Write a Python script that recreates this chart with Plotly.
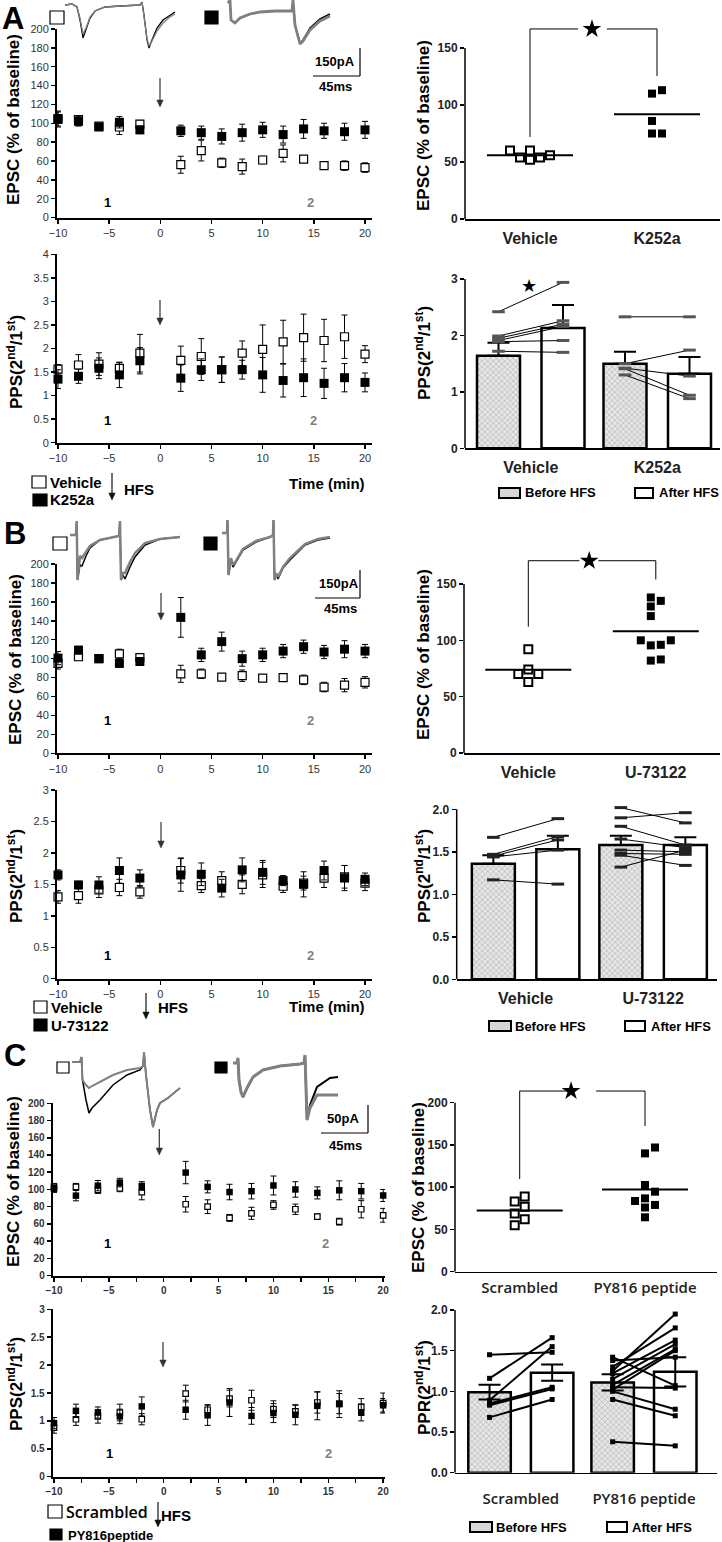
import plotly.graph_objects as go
import numpy as np

# ======================= DATA =======================
t_min = [-10, -8, -6, -4, -2, 2, 4, 6, 8, 10, 12, 14, 16, 18, 20]

# ---- Panel A (Vehicle vs K252a) ----
A_epsc_vehicle = [105, 104, 97, 96, 99, 56, 71, 58, 54, 61, 68, 62, 55, 55, 53]
A_epsc_vehicle_sem = [8, 4, 3, 8, 4, 9, 11, 5, 8, 4, 9, 3, 4, 5, 5]
A_epsc_k252a = [104, 102, 96, 101, 93, 92, 90, 86, 90, 93, 88, 94, 92, 91, 93]
A_epsc_k252a_sem = [8, 5, 3, 6, 4, 6, 7, 8, 9, 8, 9, 10, 8, 9, 9]

A_pps_vehicle = [1.56, 1.65, 1.67, 1.58, 1.90, 1.75, 1.83, 1.55, 1.90, 1.98, 2.14, 2.23, 2.17, 2.25, 1.88]
A_pps_vehicle_sem = [0.10, 0.22, 0.24, 0.12, 0.40, 0.30, 0.38, 0.27, 0.26, 0.52, 0.46, 0.50, 0.45, 0.46, 0.18]
A_pps_k252a = [1.35, 1.41, 1.58, 1.44, 1.74, 1.37, 1.55, 1.55, 1.55, 1.44, 1.32, 1.38, 1.26, 1.38, 1.28]
A_pps_k252a_sem = [0.20, 0.15, 0.22, 0.27, 0.28, 0.28, 0.23, 0.27, 0.20, 0.37, 0.35, 0.40, 0.32, 0.30, 0.20]

A_groups = ["Vehicle", "K252a"]
A_scatter_vehicle = [60, 54, 52, 54, 56, 60]
A_scatter_k252a = [110, 113, 86, 75, 75]

A_bar_before = [1.64, 1.50]
A_bar_before_sem = [0.23, 0.21]
A_bar_after = [2.13, 1.32]
A_bar_after_sem = [0.41, 0.30]
A_pair_vehicle_before = [2.42, 1.99, 1.95, 1.91, 1.89, 1.72]
A_pair_vehicle_after = [2.94, 2.26, 2.20, 2.16, 1.91, 1.70]
A_pair_k252a_before = [2.33, 1.50, 1.42, 1.41, 1.30]
A_pair_k252a_after = [2.33, 1.74, 1.28, 0.94, 0.88]

# ---- Panel B (Vehicle vs U-73122) ----
B_epsc_vehicle = [95, 102, 100, 105, 101, 84, 84, 80.5, 82, 79.4, 80, 77.6, 70, 72, 75]
B_epsc_vehicle_sem = [6, 4, 3, 5, 3, 9, 5, 3, 6, 3, 3, 5, 5, 7, 6]
B_epsc_u73122 = [100.6, 109, 100, 95, 97, 143.6, 104, 118, 100, 104, 108, 112.6, 107, 110, 108]
B_epsc_u73122_sem = [7, 4, 3, 4, 4, 21, 7, 10, 8, 7, 7, 7, 7, 9, 7]

B_pps_vehicle = [1.30, 1.32, 1.41, 1.45, 1.38, 1.72, 1.48, 1.56, 1.50, 1.65, 1.47, 1.52, 1.60, 1.62, 1.52]
B_pps_vehicle_sem = [0.10, 0.12, 0.12, 0.13, 0.10, 0.20, 0.11, 0.14, 0.15, 0.20, 0.10, 0.11, 0.15, 0.18, 0.12]
B_pps_u73122 = [1.65, 1.49, 1.49, 1.72, 1.60, 1.65, 1.66, 1.44, 1.73, 1.69, 1.56, 1.50, 1.72, 1.60, 1.58]
B_pps_u73122_sem = [0.08, 0.06, 0.13, 0.20, 0.13, 0.26, 0.18, 0.14, 0.19, 0.19, 0.08, 0.20, 0.15, 0.20, 0.10]

B_groups = ["Vehicle", "U-73122"]
B_scatter_vehicle = [92, 74, 70, 70, 63]
B_scatter_u73122 = [138, 135, 130, 121.5, 100, 96, 95.5, 100, 82, 83]

B_bar_before = [1.36, 1.58]
B_bar_before_sem = [0.10, 0.11]
B_bar_after = [1.53, 1.58]
B_bar_after_sem = [0.16, 0.09]
B_pair_vehicle_before = [1.67, 1.47, 1.45, 1.44, 1.17]
B_pair_vehicle_after = [1.89, 1.68, 1.64, 1.52, 1.12]
B_pair_u73122_before = [2.02, 1.90, 1.80, 1.65, 1.52, 1.48, 1.46, 1.32]
B_pair_u73122_after = [1.84, 1.96, 1.58, 1.55, 1.50, 1.47, 1.34, 1.52]

# ---- Panel C (Scrambled vs PY816 peptide) ----
C_epsc_scrambled = [103, 103, 99.4, 101.4, 97, 82.8, 80, 67, 72.3, 82, 77, 68.4, 62.6, 77, 70]
C_epsc_scrambled_sem = [4, 4, 4, 4, 9, 9, 8, 4, 7, 5, 6, 3, 4, 10, 8]
C_epsc_py816 = [100.6, 92.8, 104.4, 108, 104, 119.6, 103, 97, 98, 104.6, 100, 96, 99, 98, 93]
C_epsc_py816_sem = [4, 6, 6, 5, 5, 13, 7, 9, 9, 11, 9, 7, 11, 9, 7]

C_pps_scrambled = [0.88, 1.03, 1.08, 1.15, 1.03, 1.49, 1.20, 1.40, 1.37, 1.21, 1.17, 1.33, 1.31, 1.25, 1.32]
C_pps_scrambled_sem = [0.10, 0.11, 0.12, 0.15, 0.10, 0.15, 0.09, 0.15, 0.18, 0.15, 0.11, 0.19, 0.18, 0.15, 0.18]
C_pps_py816 = [0.96, 1.18, 1.15, 1.08, 1.26, 1.20, 1.10, 1.33, 1.09, 1.14, 1.11, 1.27, 1.30, 1.15, 1.28]
C_pps_py816_sem = [0.10, 0.12, 0.10, 0.13, 0.17, 0.17, 0.18, 0.25, 0.15, 0.17, 0.18, 0.25, 0.24, 0.15, 0.12]

C_groups = ["Scrambled", "PY816 peptide"]
C_scatter_scrambled = [83, 77, 89, 69, 62, 55]
C_scatter_py816 = [147, 140, 102.6, 94.7, 86.8, 79, 76, 83.7, 64.4]

C_bar_before = [0.99, 1.11]
C_bar_before_sem = [0.09, 0.10]
C_bar_after = [1.23, 1.24]
C_bar_after_sem = [0.10, 0.18]
C_pair_scrambled_before = [1.45, 1.16, 0.89, 0.85, 0.83, 0.68]
C_pair_scrambled_after = [1.48, 1.66, 1.55, 1.05, 1.03, 0.90]
C_pair_py816_before = [1.25, 1.30, 1.22, 1.15, 1.08, 1.42, 1.38, 1.02, 1.00, 0.90, 0.38, 1.05]
C_pair_py816_after = [1.95, 1.78, 1.63, 1.58, 1.52, 1.07, 1.42, 1.50, 0.78, 0.70, 0.33, 1.04]

# ---- Example EPSC traces (ms, pA) ----
trA_veh_t = [0, 7, 12, 15, 18, 21, 25, 30, 40, 55, 75, 77, 79, 82, 84, 87, 92, 98, 105, 110]
trA_veh_black = [0, 6, -12, -90, -198, -150, -78, -36, -12, -6, 0, 18, -60, -210, -258, -210, -138, -90, -60, -42]
trA_veh_gray = [0, 6, -12, -80, -174, -138, -72, -36, -12, -6, 0, 18, -60, -200, -246, -216, -156, -108, -72, -54]
trA_k_t = [0, 2, 3, 7, 12, 22, 32, 47, 64, 65, 67, 72, 75, 82, 92, 102]
trA_k_black = [0, 18, -102, -120, -90, -66, -54, -48, -48, 18, -132, -240, -222, -150, -96, -66]
trA_k_gray = [0, 18, -102, -120, -90, -66, -54, -48, -48, 18, -132, -246, -228, -162, -108, -78]

trB_veh_t = [0, 6, 6.7, 7.5, 10, 12, 16, 20, 30, 45, 49, 50, 51, 53, 55, 60, 65, 75, 90, 110]
trB_veh_black = [0, 0, 84, -270, -180, -186, -126, -78, -30, -12, -6, 84, -270, -240, -264, -192, -132, -60, -24, -12]
trB_veh_gray = [0, 0, 84, -270, -126, -138, -102, -66, -30, -12, -6, 84, -270, -228, -228, -162, -108, -48, -24, -12]
trB_u_t = [0, 5, 5.5, 6.5, 9, 11, 14, 21, 34, 48, 51, 51.5, 52.5, 54, 56, 61, 68, 83, 96, 108]
trB_u_black = [0, 0, 78, -252, -162, -204, -174, -102, -54, -24, -12, 78, -282, -252, -276, -210, -162, -72, -42, -30]
trB_u_gray = [0, 0, 78, -252, -150, -192, -168, -96, -48, -24, -12, 78, -282, -240, -264, -204, -150, -66, -36, -24]

trC_scr_t = [0, 8, 9.5, 10.5, 14, 17, 20, 28, 41, 55, 68, 71, 72, 74, 78, 81, 85, 88, 96, 103, 108]
trC_scr_black = [0, 0, 10, -36, -76, -102, -92, -76, -46, -26, -16, -8, 20, -26, -96, -130, -96, -82, -72, -60, -52]
trC_scr_gray = [0, 0, 10, -36, -46, -52, -48, -40, -26, -16, -12, -8, 20, -26, -96, -130, -96, -82, -72, -60, -52]
trC_py_t = [0, 4, 5, 6, 8, 10, 14, 20, 30, 47, 67, 71, 72, 73, 74, 77, 84, 97, 105]
trC_py_black = [0, 0, 10, -34, -58, -68, -50, -28, -14, -6, -2, 0, 16, -64, -114, -84, -48, -30, -28]
trC_py_gray = [0, 0, 10, -34, -58, -68, -50, -28, -14, -6, -2, 0, 16, -64, -114, -90, -64, -64, -64]

# ======================= LAYOUT HELPERS =======================
W, H = 722, 1542
FONT = "Liberation Sans, Arial, Helvetica, sans-serif"
OPEN = "Open Sans, Liberation Sans, sans-serif"


def fx(p):
    return p / W


def fy(p):
    return 1 - p / H


def lin_range(d0, d1, p0, v0, p1, v1):
    s = (v1 - v0) / (p1 - p0)
    return [v0 + (d0 - p0) * s, v0 + (d1 - p0) * s]


layout = {}
traces = []
annotations = []
shapes = []


def refs(n):
    if n == 1:
        return 'xaxis', 'yaxis', 'x', 'y'
    return f'xaxis{n}', f'yaxis{n}', f'x{n}', f'y{n}'


def set_axes(n, xdom, ydom, xrange, yrange, xkw, ykw):
    xa, ya, xr, yr = refs(n)
    layout[xa] = dict(domain=[fx(xdom[0]), fx(xdom[1])], range=xrange, anchor=yr, automargin=False,
                      showgrid=False, zeroline=False, **xkw)
    layout[ya] = dict(domain=[fy(ydom[1]), fy(ydom[0])], range=yrange, anchor=xr, automargin=False,
                      showgrid=False, zeroline=False, **ykw)


def text(x, y, s, size=13, bold=True, color='black', family=FONT, xanchor='center', angle=0,
         weight=None, yanchor='middle'):
    f = dict(family=family, size=size, color=color)
    if weight is not None:
        f['weight'] = weight
    annotations.append(dict(x=fx(x), y=fy(y), xref='paper', yref='paper', showarrow=False,
                            text=(f'<b>{s}</b>' if bold else s), font=f, xanchor=xanchor,
                            yanchor=yanchor, textangle=angle, borderpad=0))


def rect(x0, y0, x1, y1, fill='white', lw=1.2):
    shapes.append(dict(type='rect', xref='paper', yref='paper', x0=fx(x0), x1=fx(x1),
                       y0=fy(y1), y1=fy(y0), fillcolor=fill, line=dict(color='black', width=lw)))


def pline(x0, y0, x1, y1, lw=1.2, color='black'):
    shapes.append(dict(type='line', xref='paper', yref='paper', x0=fx(x0), x1=fx(x1),
                       y0=fy(y0), y1=fy(y1), line=dict(color=color, width=lw)))


def parrow(x, y0, ytip, color='#333'):
    pline(x, y0, x, ytip - 5, lw=1.2, color=color)
    path = (f'M {fx(x - 3.2)},{fy(ytip - 7)} L {fx(x + 3.2)},{fy(ytip - 7)} '
            f'L {fx(x)},{fy(ytip)} Z')
    shapes.append(dict(type='path', xref='paper', yref='paper', path=path,
                       fillcolor=color, line=dict(color=color, width=0.5)))


# ======================= TIME-COURSE PANELS =======================
def time_panel(n, xdom, xcal, ydom, yrange, ydtick, open_y, open_e, fill_y, fill_e,
               msize, bold, tfs, xminor):
    xrange = lin_range(xdom[0], xdom[1], *xcal)
    tf = dict(family=FONT, size=tfs, color='#333', weight=('bold' if bold else 'normal'))
    common = dict(showline=True, linecolor='black', linewidth=2, ticks='outside', ticklen=4,
                  tickwidth=1.5, tickcolor='black', tickfont=tf)
    xkw = dict(tickmode='linear', tick0=-10, dtick=5, **common)
    if xminor:
        xkw['minor'] = dict(tickmode='linear', tick0=-10, dtick=2.5, ticks='outside', ticklen=4,
                            tickwidth=1.5, tickcolor='black', showgrid=False)
    set_axes(n, xdom, ydom, xrange, list(yrange), xkw,
             dict(tickmode='linear', tick0=0, dtick=ydtick, **common))
    _, _, xr, yr = refs(n)
    traces.append(go.Scatter(x=t_min, y=open_y, mode='markers', xaxis=xr, yaxis=yr, cliponaxis=False,
                             marker=dict(symbol='square', size=msize - 1, color='white',
                                         line=dict(color='black', width=1.2)),
                             error_y=dict(type='data', array=open_e, thickness=1, width=3, color='black')))
    traces.append(go.Scatter(x=t_min, y=fill_y, mode='markers', xaxis=xr, yaxis=yr, cliponaxis=False,
                             marker=dict(symbol='square', size=msize, color='black',
                                         line=dict(color='black', width=0)),
                             error_y=dict(type='data', array=fill_e, thickness=1, width=3, color='black')))


AB_x = (58, -10, 365, 20)
C_x = (54, -10, 328.3, 15)

time_panel(1, (57, 372), AB_x, (29, 217.5), (0, 200), 20, A_epsc_vehicle, A_epsc_vehicle_sem,
           A_epsc_k252a, A_epsc_k252a_sem, 9, False, 11, False)
time_panel(2, (57, 372), AB_x, (254.3, 442.7), (0, 4), 0.5, A_pps_vehicle, A_pps_vehicle_sem,
           A_pps_k252a, A_pps_k252a_sem, 9, False, 11, False)
time_panel(5, (57, 372), AB_x, (564, 753.3), (0, 200), 20, B_epsc_vehicle, B_epsc_vehicle_sem,
           B_epsc_u73122, B_epsc_u73122_sem, 9, False, 11, False)
time_panel(6, (57, 372), AB_x, (790, 978.7), (0, 3), 0.5, B_pps_vehicle, B_pps_vehicle_sem,
           B_pps_u73122, B_pps_u73122_sem, 9, False, 11, False)
time_panel(9, (52.7, 385), C_x, (1103.3, 1275.6), (0, 200), 20, C_epsc_scrambled, C_epsc_scrambled_sem,
           C_epsc_py816, C_epsc_py816_sem, 6.5, True, 10, True)
time_panel(10, (52.7, 385), C_x, (1309.3, 1476.7), (0, 3), 0.5, C_pps_scrambled, C_pps_scrambled_sem,
           C_pps_py816, C_pps_py816_sem, 6.5, True, 10, True)

# HFS arrows inside time-course panels
for (x, y0, y1) in [(160, 78, 107), (160, 300, 325), (161, 593, 620), (161, 822, 848),
                    (159.3, 1129, 1155), (163, 1342, 1367)]:
    parrow(x, y0, y1)


# ======================= SCATTER PANELS =======================
def swarm(vals, ppu, step_px, size_px):
    order = np.argsort(vals, kind='stable')
    placed = []
    offs = [0.0] * len(vals)
    cands = [0.0]
    for j in range(1, 12):
        cands += [j * step_px, -j * step_px]
    for i in order:
        yv = vals[i] * ppu
        chosen = cands[-1]
        for c in cands:
            if all(abs(c - px_) >= size_px or abs(yv - py_) >= size_px for px_, py_ in placed):
                chosen = c
                break
        placed.append((chosen, yv))
        offs[i] = chosen
    shift = (min(offs) + max(offs)) / 2
    return [o - shift for o in offs]


def right_yaxis_line(n, top, lw=1.5):
    _, _, xr, yr = refs(n)
    shapes.append(dict(type='line', xref=f'{xr} domain', yref=yr, x0=0, x1=0, y0=0, y1=top,
                       line=dict(color='black', width=lw)))


def right_axes(n, xdom, cat_px, y0px, ppu, ymax, tickvals, tickfmt, cats, catfont, standoff):
    xrange = lin_range(xdom[0], xdom[1], cat_px[0], 0, cat_px[1], 1)
    ydom = (y0px - ymax * ppu, y0px)
    tf = dict(family=FONT, size=12, color='#222', weight='bold')
    ykw = dict(showline=False, ticks='outside', ticklen=4, tickwidth=1.5, tickcolor='black',
               tickmode='array', tickvals=tickvals, tickfont=tf)
    if tickfmt:
        ykw['tickformat'] = tickfmt
    set_axes(n, xdom, ydom, xrange, [0, ymax],
             dict(showline=True, linecolor='black', linewidth=1.5, ticks='', tickmode='array',
                  tickvals=[0, 1], ticktext=cats, tickfont=catfont, ticklabelstandoff=standoff),
             ykw)
    right_yaxis_line(n, tickvals[-1])


def scatter_panel(n, xdom, cat_px, y0px, ppu, ymax, tickvals, cats, open_vals, fill_vals,
                  bracket, catfont, standoff):
    right_axes(n, xdom, cat_px, y0px, ppu, ymax, tickvals, None, cats, catfont, standoff)
    _, _, xr, yr = refs(n)
    upx = cat_px[1] - cat_px[0]
    for ci, (vals, is_open) in enumerate([(open_vals, True), (fill_vals, False)]):
        offs = swarm(vals, ppu, 10, 8)
        xs = [ci + o / upx for o in offs]
        mk = dict(symbol='square', size=8, color='white', line=dict(color='black', width=2)) if is_open \
            else dict(symbol='square', size=8, color='black', line=dict(width=0))
        traces.append(go.Scatter(x=xs, y=vals, mode='markers', marker=mk, xaxis=xr, yaxis=yr,
                                 cliponaxis=False))
        m = float(np.mean(vals))
        hw = 43 / upx
        traces.append(go.Scatter(x=[ci - hw, ci + hw], y=[m, m], mode='lines', xaxis=xr, yaxis=yr,
                                 line=dict(color='black', width=2)))
    top, lb, rb, g0, g1, sx = bracket
    traces.append(go.Scatter(x=[0, 0, g0, None, g1, 1, 1], y=[lb, top, top, None, top, top, rb],
                             mode='lines', xaxis=xr, yaxis=yr, line=dict(color='black', width=1)))
    traces.append(go.Scatter(x=[sx], y=[top], mode='markers', xaxis=xr, yaxis=yr, cliponaxis=False,
                             marker=dict(symbol='star', size=14, color='black')))


cat_font_ab = dict(family=FONT, size=16, color='#222', weight='bold')
cat_font_c = dict(family=OPEN, size=15, color='#222', weight=600)

scatter_panel(3, (465, 720), (530, 657), 219, 1.14, 180, [0, 50, 100, 150], A_groups,
              A_scatter_vehicle, A_scatter_k252a, (166.7, 72, 125.4, 0.378, 0.606, 0.488),
              cat_font_ab, 4)
scatter_panel(7, (464, 720), (528.3, 655.8), 753, 1.127, 180, [0, 50, 100, 150], B_groups,
              B_scatter_vehicle, B_scatter_u73122, (170.6, 112, 154, 0.4, 0.55, 0.478),
              cat_font_ab, 4)
scatter_panel(11, (455, 717), (519.7, 645), 1271.7, 0.845, 220, [0, 50, 100, 150, 200], C_groups,
              C_scatter_scrambled, C_scatter_py816, (213.8, 109.7, 172.4, 0.38, 0.61, 0.41),
              cat_font_c, 2)


# ======================= BAR PANELS =======================
def bar_panel(n, xdom, cat_px, off_px, bw_px, y0px, ppu, ymax, tickvals, tickfmt, cats,
              before, before_e, after, after_e, pairs, sym, pair_mk, pair_lw, catfont, standoff):
    right_axes(n, xdom, cat_px, y0px, ppu, ymax, tickvals, tickfmt, cats, catfont, standoff)
    _, _, xr, yr = refs(n)
    upx = cat_px[1] - cat_px[0]
    off = off_px / upx
    bw = bw_px / upx
    err_b = dict(type='data', array=before_e, thickness=2, width=11, color='black')
    err_a = dict(type='data', array=after_e, thickness=2, width=11, color='black')
    if not sym:
        err_b.update(symmetric=False, arrayminus=[0] * len(before_e))
        err_a.update(symmetric=False, arrayminus=[0] * len(after_e))
    traces.append(go.Bar(x=[c - off for c in range(len(before))], y=before, width=[bw] * len(before),
                         xaxis=xr, yaxis=yr, error_y=err_b,
                         marker=dict(color='#dcdcdc', line=dict(color='black', width=2.5),
                                     pattern=dict(shape='x', size=4, solidity=0.3, fgcolor='#b4b4b4',
                                                  bgcolor='#e6e6e6'))))
    traces.append(go.Bar(x=[c + off for c in range(len(after))], y=after, width=[bw] * len(after),
                         xaxis=xr, yaxis=yr, error_y=err_a,
                         marker=dict(color='white', line=dict(color='black', width=2.5))))
    for ci, (bv, av) in enumerate(pairs):
        xs, ys = [], []
        for b, a in zip(bv, av):
            xs += [ci - off, ci + off, None]
            ys += [b, a, None]
        traces.append(go.Scatter(x=xs, y=ys, mode='lines+markers', xaxis=xr, yaxis=yr, cliponaxis=False,
                                 line=dict(color='black', width=pair_lw), marker=pair_mk))


mk_ab = dict(symbol='line-ew', size=9, color='#555', line=dict(color='#555', width=3))
mk_b = dict(symbol='line-ew', size=9, color='#222', line=dict(color='#222', width=3))
mk_c = dict(symbol='square', size=5, color='black')

bar_panel(4, (465, 720), (530.75, 657.25), 32.25, 43, 448.3, 56.43, 3.05, [0, 1, 2, 3], None, A_groups,
          A_bar_before, A_bar_before_sem, A_bar_after, A_bar_after_sem,
          [(A_pair_vehicle_before, A_pair_vehicle_after), (A_pair_k252a_before, A_pair_k252a_after)],
          False, mk_ab, 1, cat_font_ab, 4)
bar_panel(8, (456.7, 717), (525.6, 653.1), 32.25, 43, 979.3, 85, 2.1, [0, 0.5, 1, 1.5, 2], '.1f', B_groups,
          B_bar_before, B_bar_before_sem, B_bar_after, B_bar_after_sem,
          [(B_pair_vehicle_before, B_pair_vehicle_after), (B_pair_u73122_before, B_pair_u73122_after)],
          False, mk_b, 1, cat_font_ab, 4)
bar_panel(12, (455, 717), (520.85, 643.95), 31.3, 42.5, 1472.7, 81.35, 2.05, [0, 0.5, 1, 1.5, 2], '.1f',
          C_groups, C_bar_before, C_bar_before_sem, C_bar_after, C_bar_after_sem,
          [(C_pair_scrambled_before, C_pair_scrambled_after), (C_pair_py816_before, C_pair_py816_after)],
          True, mk_c, 2, cat_font_c, 12)


# ======================= EXAMPLE TRACES (insets) =======================
def inset(n, box, x0px, ybase, ms_pp, pa_pp, t, black, gray, wb, wg):
    xrange = [(box[0] - x0px) * ms_pp, (box[1] - x0px) * ms_pp]
    yrange = [-(box[3] - ybase) * pa_pp, (ybase - box[2]) * pa_pp]
    set_axes(n, (box[0], box[1]), (box[2], box[3]), xrange, yrange, dict(visible=False), dict(visible=False))
    _, _, xr, yr = refs(n)
    traces.append(go.Scatter(x=t, y=black, mode='lines', xaxis=xr, yaxis=yr,
                             line=dict(color='black', width=wb)))
    traces.append(go.Scatter(x=t, y=gray, mode='lines', xaxis=xr, yaxis=yr,
                             line=dict(color='#808080', width=wg)))


inset(13, (62, 180, 0, 52), 65, 5, 1, 6, trA_veh_t, trA_veh_black, trA_veh_gray, 1.3, 1.3)
inset(14, (226, 335, 0, 52), 228, 3, 1, 6, trA_k_t, trA_k_black, trA_k_gray, 1.5, 2.8)
inset(15, (68, 183, 515, 585), 70, 535, 1, 6, trB_veh_t, trB_veh_black, trB_veh_gray, 1.5, 2.5)
inset(16, (220, 335, 515, 585), 222, 533, 1, 6, trB_u_t, trB_u_black, trB_u_gray, 1.5, 2.5)
inset(17, (70, 183, 1045, 1135), 72, 1062, 1, 2, trC_scr_t, trC_scr_black, trC_scr_gray, 1.5, 2)
inset(18, (231, 342, 1045, 1135), 233, 1063, 1, 2, trC_py_t, trC_py_black, trC_py_gray, 2, 3)

# inset icons
rect(50, 11, 64, 24)
rect(205, 11, 218, 24, fill='black')
rect(53, 537, 67, 550)
rect(204, 537, 217, 550, fill='black')
rect(57, 1062, 69, 1073)
rect(215, 1062, 227, 1073, fill='black')

# scale bars
text(335, 62, '150pA', 13)
pline(313, 76, 360, 76)
pline(360, 48, 360, 76)
text(335, 86, '45ms', 13)
text(339, 583, '150pA', 13)
pline(315, 598, 360, 598)
pline(360, 570, 360, 598)
text(340, 609, '45ms', 13)
text(343, 1118, '50pA', 13)
pline(321, 1133, 368, 1133)
pline(368, 1105, 368, 1133)
text(345, 1145, '45ms', 13)

# panel letters
text(13, 0, 'A', 31, yanchor='top')
text(15, 533, 'B', 31)
text(15, 1055, 'C', 31)

# y-axis titles
PPS = 'PPS(2<sup>nd</sup>/1<sup>st</sup>)'
for (x, y, s) in [(14, 120, 'EPSC (% of baseline)'), (15, 362, PPS),
                  (423, 125, 'EPSC (% of baseline)'), (423, 353, PPS),
                  (15, 660, 'EPSC (% of baseline)'), (15, 876, PPS),
                  (423, 654, 'EPSC (% of baseline)'), (423, 876, PPS),
                  (13, 1182, 'EPSC (% of baseline)'), (15, 1384, PPS),
                  (418, 1188, 'EPSC (% of baseline)'), (423, 1387, 'PPR(2<sup>nd</sup>/1<sup>st</sup>)')]:
    text(x, y, s, 17, angle=-90)

# "1" / "2" period labels
for (x, y) in [(107, 203), (108, 421), (107, 720), (107, 955), (107, 1243), (109, 1453)]:
    text(x, y, '1', 13)
for (x, y) in [(310, 203), (313, 421), (310, 720), (310, 955), (325, 1243), (328, 1453)]:
    text(x, y, '2', 13, color='#808080')

# time-course legends
rect(32, 476, 46, 488)
text(49, 482, 'Vehicle', 15, xanchor='left')
rect(33, 494, 47, 506, fill='black')
text(49, 500, 'K252a', 15, xanchor='left')
parrow(112, 473, 500, color='#111')
text(123, 490, 'HFS', 15, xanchor='left')
text(366, 483, 'Time (min)', 15, xanchor='right')

rect(34, 1001, 47, 1013)
text(50, 1007, 'Vehicle', 15, xanchor='left')
rect(34, 1019, 47, 1031, fill='black')
text(50, 1025, 'U-73122', 15, xanchor='left')
parrow(146, 993, 1019, color='#111')
text(157, 1007, 'HFS', 15, xanchor='left')
text(366, 1006, 'Time (min)', 15, xanchor='right')

rect(48, 1505, 62, 1518)
text(65, 1512, 'Scrambled', 16, bold=False, family=OPEN, xanchor='left', weight=600)
rect(50, 1529, 62, 1540, fill='black')
text(67, 1535, 'PY816peptide', 13, xanchor='left')
parrow(158, 1502, 1527, color='#111')
text(160, 1515, 'HFS', 15, xanchor='left')

# bar legends
for (y, hx0, hx1, tx1, ox0, ox1, tx2) in [(493, 499, 520, 524, 635, 653, 658),
                                         (1026, 489, 511, 514, 625, 645, 650),
                                         (1527, 470, 492, 495, 607, 627, 631)]:
    rect(hx0, y - 5, hx1, y + 5, fill='#d6d6d6', lw=2)
    text(tx1, y, 'Before HFS', 13, xanchor='left')
    rect(ox0, y - 5, ox1, y + 5, fill='white', lw=2)
    text(tx2, y, 'After HFS', 13, xanchor='left')

# significance star over vehicle bars (A)
text(529, 286, '★', 18, bold=False)

layout.update(dict(template='none', width=W, height=H, margin=dict(l=0, r=0, t=0, b=0, autoexpand=False),
                   paper_bgcolor='white', plot_bgcolor='rgba(0,0,0,0)', showlegend=False,
                   barmode='overlay', font=dict(family=FONT, color='black'), hovermode=False,
                   annotations=annotations, shapes=shapes))

fig = go.Figure(data=traces, layout=layout)
fig.write_html("out.html", config={'displayModeBar': False, 'staticPlot': True},
               post_script="document.body.style.margin='0';document.body.style.padding='0';"
                           "document.documentElement.style.overflow='hidden';")
